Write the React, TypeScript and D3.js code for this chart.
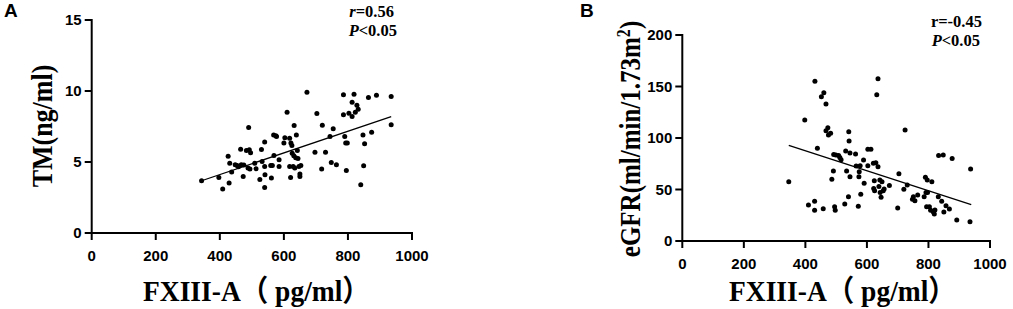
import React from "react";
import * as d3 from "d3";

// ---- Panel A data: FXIII-A (pg/ml) vs TM (ng/ml)
const aX = [343,397,409,426,429,431,437,448,454,458,465,467,473,475,483,488,490,492,496,494,509,513,525,530,532,540,540,541,540,559,561,564,569,568,575,577,585,585,600,603,610,618,622,625,621,618,626,629,631,634,637,639,642,644,632,647,650,653,650,672,697,703,718,720,730,744,748,754,764,786,786,790,793,798,795,803,813,813,819,823,828,832,840,847,849,852,864,874,889,935,935];
const aY = [3.68,3.91,3.09,5.41,3.52,4.92,4.29,4.8,4.76,4.66,5.9,4.8,3.98,4.78,5.81,4.57,7.43,5.86,5.65,4.5,4.92,4.52,3.77,5.88,5.04,6.4,4.69,4.1,3.21,4.76,3.87,4.76,5.46,6.91,6.84,6.8,5.16,4.69,6.33,6.7,8.5,6.68,6.33,6.16,3.91,4.69,5.62,4.69,5.44,4.57,5.3,6.91,5.81,5.25,7.57,4.69,3.98,4.76,4.15,9.91,5.69,8.41,4.5,7.59,5.69,6.8,4.97,7.34,4.8,9.73,8.32,6.8,6.33,6.33,4.41,8.44,9.21,8.2,9.77,8.5,9.0,8.72,3.4,6.91,4.73,6.28,9.54,7.1,9.7,9.61,7.62];
const aFitX = [343, 935];
const aFitY = [3.68, 8.2];

// ---- Panel B data: FXIII-A (pg/ml) vs eGFR
const bX = [346,398,410,430,431,430,439,452,460,458,467,467,473,475,482,486,491,492,495,497,499,508,512,516,528,531,534,541,542,540,545,545,563,565,572,574,575,578,580,589,591,603,603,613,621,622,624,625,629,632,636,636,639,642,643,646,649,653,656,673,700,704,720,724,731,748,751,756,765,786,790,792,797,796,803,794,807,811,816,819,821,832,833,843,848,850,857,868,877,892,935,937];
const bY = [57.6,117.5,35,38.5,155,29.8,90,140,144,31.4,133,107,110,103,104.5,60,68,84,33.3,29.8,83.5,83,81,79,36,87.4,68,106,97,43,85.4,62.5,84.5,72.8,33.7,62.5,67.3,73,45.3,78.6,56,73,89,89,75.4,51,58.6,48.9,76,142,157.6,72,52.8,59.2,47.2,42.4,57.6,48.9,50.5,54,32,65.4,50.2,107.8,54.4,40.5,43,39,44.7,43,61.8,47,47,59.2,33.3,33.3,29.8,57.6,28.2,26.2,30,43,83,38.5,83.5,28.2,34.3,31,80,20.4,18.8,70];
const bFitX = [346, 939];
const bFitY = [92.9, 35.3];

const xTicks = [0, 200, 400, 600, 800, 1000];
const aYTicks = [0, 5, 10, 15];
const bYTicks = [0, 50, 100, 150, 200];
const xTitle = "FXIII-A（ pg/ml）";

const SERIF = "'Liberation Serif', 'Times New Roman', 'Noto Sans CJK SC', serif";
const SANS = "'Liberation Sans', Arial, sans-serif";

type PanelProps = {
  left: number; right: number; top: number; bottom: number;
  yMax: number; yTicks: number[];
  xs: number[]; ys: number[]; fitX: number[]; fitY: number[];
  letter: string; letterX: number;
  yLabel: React.ReactNode; yLabelX: number; yLabelY: number; yLabelSize: number;
  xLabelX: number;
  stat1: React.ReactNode; stat2: React.ReactNode; stat1X: number; stat2X: number; stat1Y: number; stat2Y: number;
};

function Panel(p: PanelProps) {
  const x = d3.scaleLinear().domain([0, 1000]).range([p.left, p.right]);
  const y = d3.scaleLinear().domain([0, p.yMax]).range([p.bottom, p.top]);
  const line = d3.line<number>().x((d) => x(p.fitX[d])).y((d) => y(p.fitY[d]));
  return (
    <g>
      <text x={p.letterX} y={17} fontFamily={SANS} fontWeight="bold" fontSize={19}>{p.letter}</text>
      {/* axes */}
      <line x1={p.left - 1} x2={p.right + 1} y1={p.bottom} y2={p.bottom} stroke="#000" strokeWidth={2} />
      <line x1={p.left} x2={p.left} y1={p.top - 1} y2={p.bottom} stroke="#000" strokeWidth={2} />
      {xTicks.map((t) => (
        <g key={"x" + t}>
          <line x1={x(t)} x2={x(t)} y1={p.bottom} y2={p.bottom + 7} stroke="#000" strokeWidth={2} />
          <text x={x(t)} y={p.bottom + 28} textAnchor="middle" fontFamily={SANS} fontWeight="bold" fontSize={15}>{t}</text>
        </g>
      ))}
      {p.yTicks.map((t) => (
        <g key={"y" + t}>
          <line x1={p.left - 7} x2={p.left} y1={y(t)} y2={y(t)} stroke="#000" strokeWidth={2} />
          <text x={p.left - 10} y={y(t) + 5} textAnchor="end" fontFamily={SANS} fontWeight="bold" fontSize={15}>{t}</text>
        </g>
      ))}
      {/* points */}
      {p.xs.map((v, i) => (
        <circle key={i} cx={x(v)} cy={y(p.ys[i])} r={2.5} fill="#000" />
      ))}
      <path d={line([0, 1]) || ""} stroke="#000" strokeWidth={1.3} fill="none" />
      {/* labels */}
      <text transform={`translate(${p.yLabelX},${p.yLabelY}) rotate(-90) scale(1,1.15)`} textAnchor="middle" fontFamily={SERIF} fontWeight="bold" fontSize={p.yLabelSize}>{p.yLabel}</text>
      <text transform={`translate(${p.xLabelX},301) scale(1,1.08)`} fontFamily={SERIF} fontWeight="bold" fontSize={27.5}>{xTitle}</text>
      <text x={p.stat1X} y={p.stat1Y} textAnchor="end" fontFamily={SERIF} fontWeight="bold" fontSize={16.5}>{p.stat1}</text>
      <text x={p.stat2X} y={p.stat2Y} textAnchor="end" fontFamily={SERIF} fontWeight="bold" fontSize={16.5}>{p.stat2}</text>
    </g>
  );
}

export default function App() {
  return (
    <svg width={1013} height={309} style={{ position: "absolute", left: 0, top: 0, background: "#fff" }}>
      <rect width={1013} height={309} fill="#fff" />
      <Panel
        left={91.7} right={412} top={20} bottom={233}
        yMax={15} yTicks={aYTicks}
        xs={aX} ys={aY} fitX={aFitX} fitY={aFitY}
        letter="A" letterX={4}
        yLabel="TM(ng/ml)" yLabelX={52} yLabelY={126} yLabelSize={26}
        xLabelX={143}
        stat1={<><tspan fontStyle="italic">r</tspan>=0.56</>}
        stat2={<><tspan fontStyle="italic">P</tspan>&lt;0.05</>}
        stat1X={394} stat2X={397} stat1Y={17} stat2Y={36}
      />
      <Panel
        left={682.3} right={990} top={35} bottom={241}
        yMax={200} yTicks={bYTicks}
        xs={bX} ys={bY} fitX={bFitX} fitY={bFitY}
        letter="B" letterX={580}
        yLabel={<>eGFR(ml/min/1.73m<tspan dy={-9} fontSize={16}>2</tspan><tspan dy={9}>)</tspan></>}
        yLabelX={640} yLabelY={139} yLabelSize={25}
        xLabelX={729}
        stat1="r=-0.45"
        stat2={<><tspan fontStyle="italic">P</tspan>&lt;0.05</>}
        stat1X={982} stat2X={980} stat1Y={27} stat2Y={46}
      />
    </svg>
  );
}
